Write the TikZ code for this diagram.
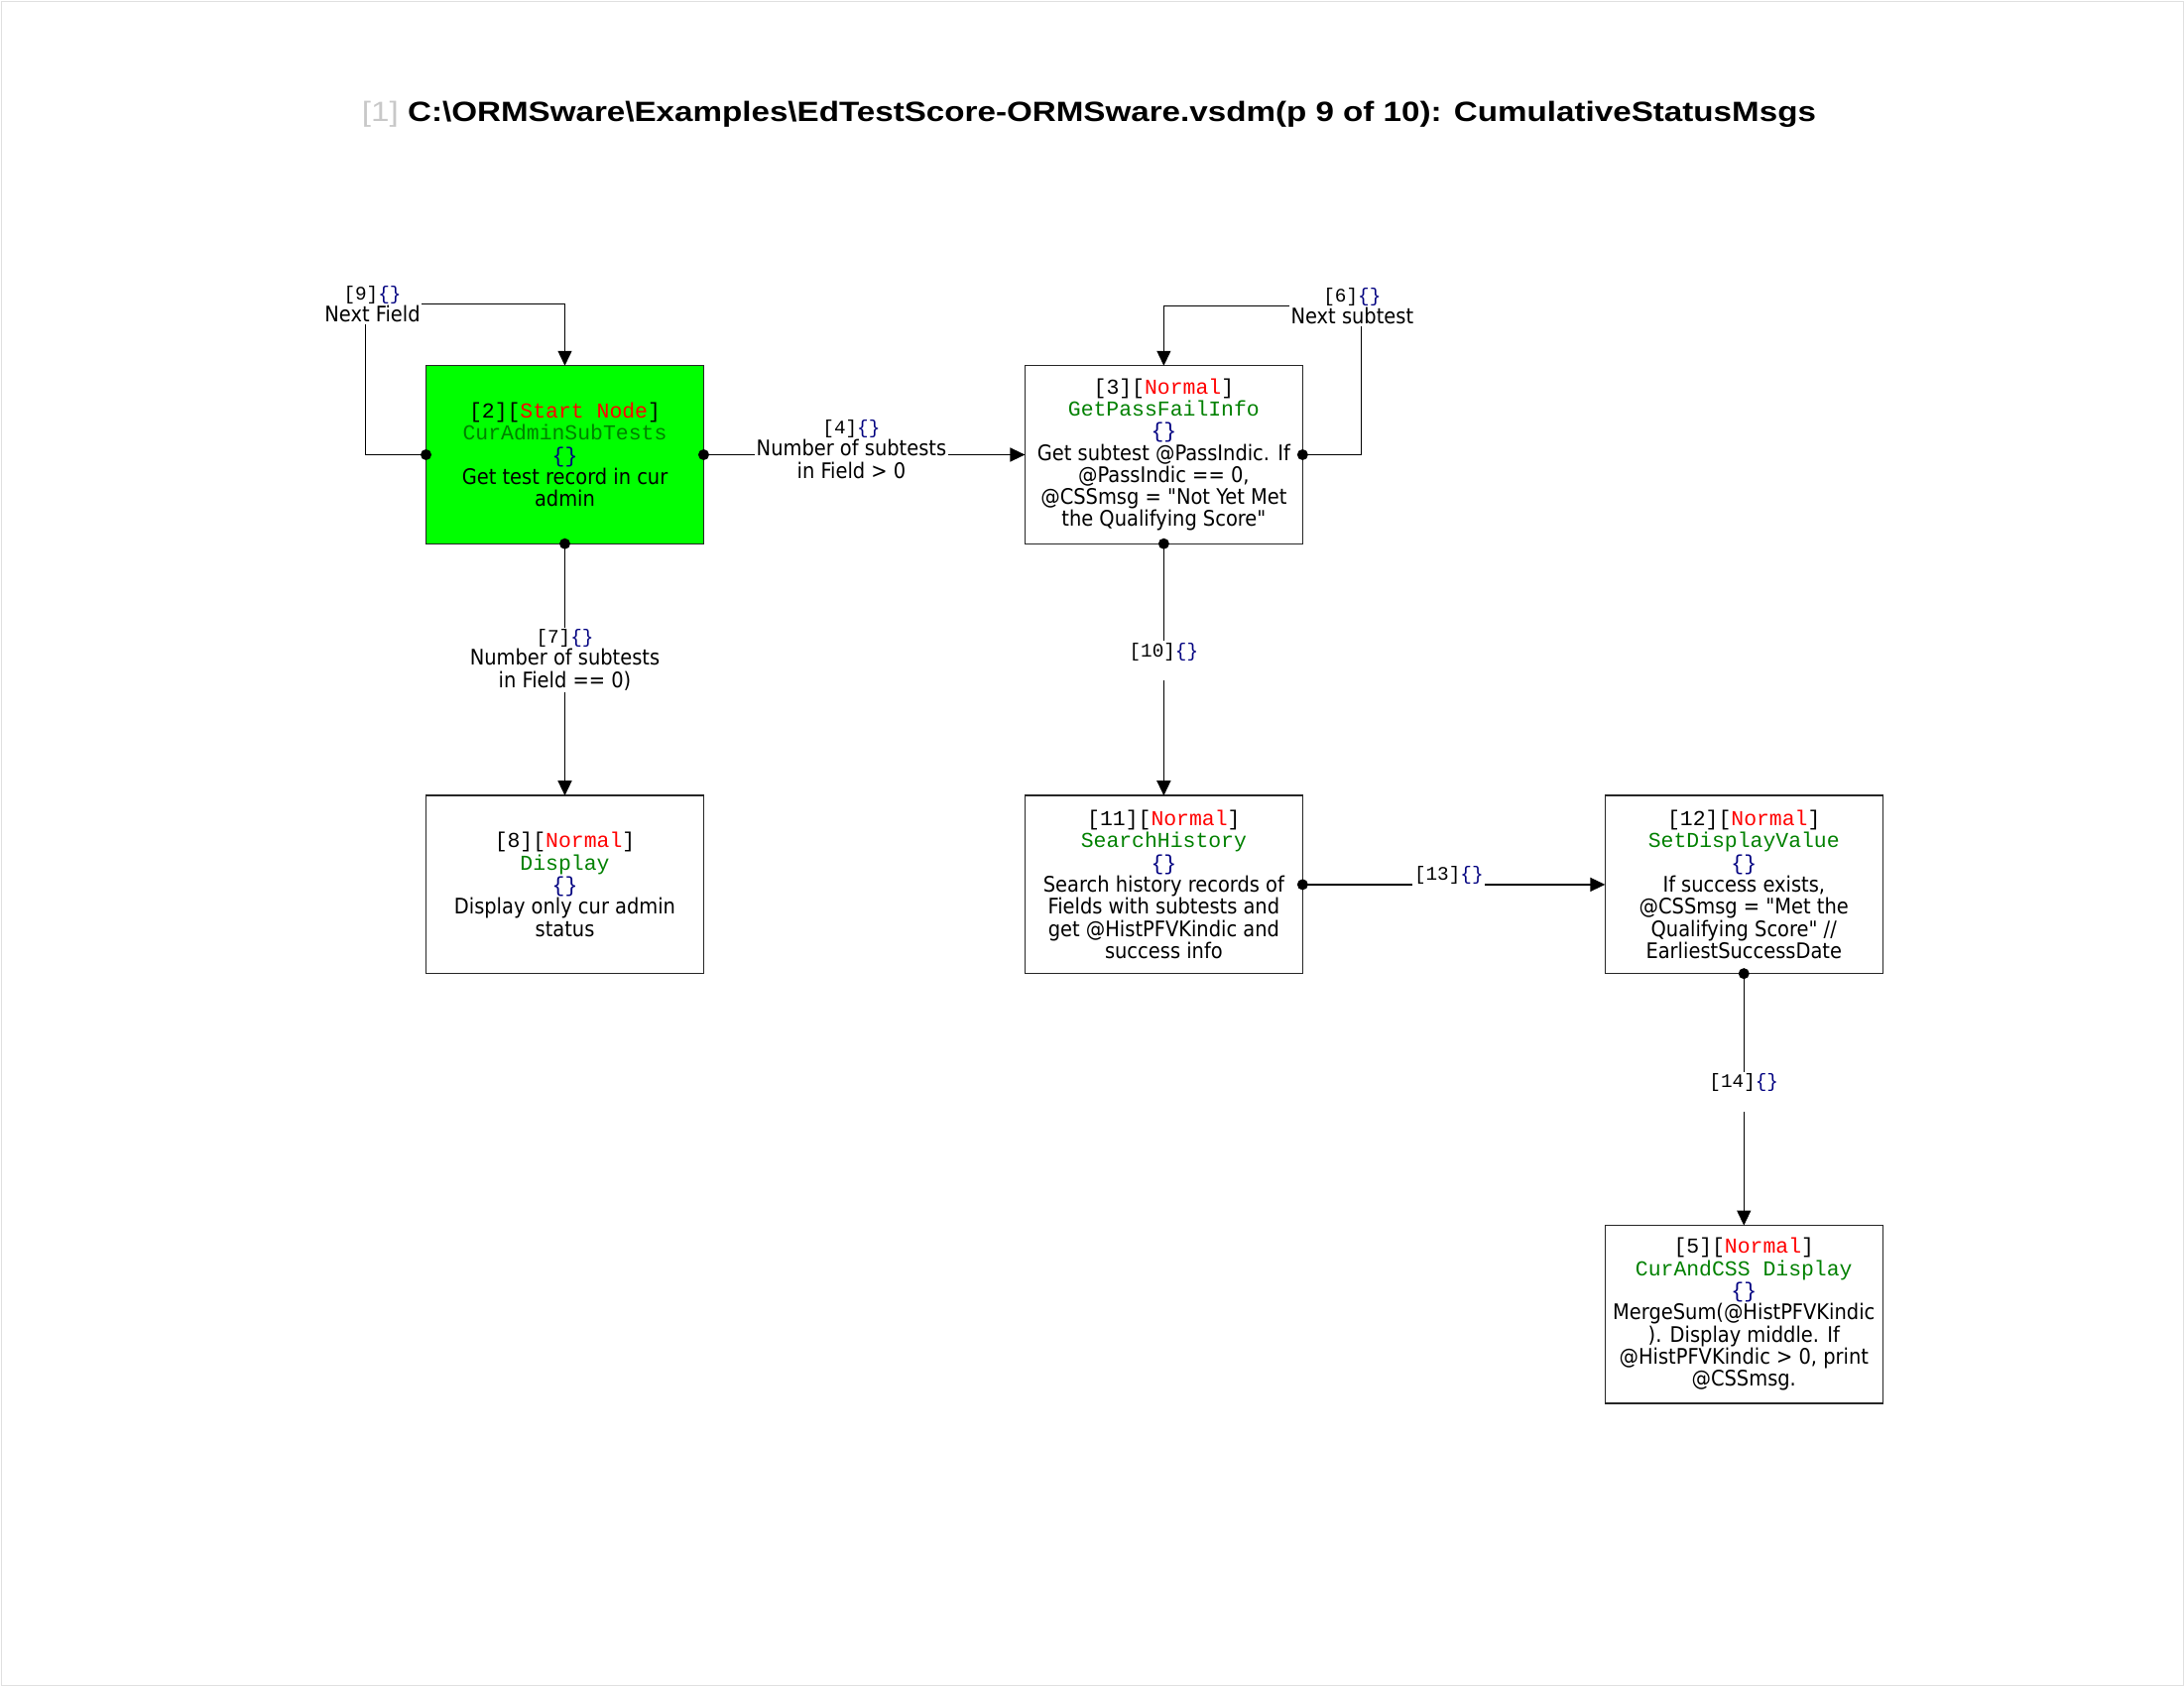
\documentclass[tikz,border=0pt]{standalone}
\usepackage{fontspec}
\setmainfont{DejaVu Sans Condensed}
\newfontfamily\codefont{Liberation Mono}
\newfontfamily\titlefont[FakeStretch=1.18]{Liberation Sans}
\usetikzlibrary{arrows.meta,positioning}
\definecolor{startgreen}{RGB}{0,255,0}
\definecolor{typered}{RGB}{255,0,0}
\definecolor{funcgreen}{RGB}{0,128,0}
\definecolor{bracenavy}{RGB}{0,0,128}
\definecolor{titlegray}{RGB}{200,200,200}
\newcommand{\descsize}{\fontsize{12.3}{12.7}\selectfont}
\newcommand{\codesize}{\fontsize{12.2}{12.7}\selectfont}
\newcommand{\nhead}[2]{{\codefont\codesize\relax[#1][\textcolor{typered}{#2}]}}
\newcommand{\nfunc}[1]{{\codefont\codesize\textcolor{funcgreen}{#1}}}
\newcommand{\nbraces}{{\codefont\codesize\textcolor{bracenavy}{\{\}}}}
\newcommand{\elab}[1]{{\codefont\fontsize{11}{12.7}\selectfont\relax[#1]\textcolor{bracenavy}{\{\}}}}
\begin{document}
\begin{tikzpicture}[
  x=0.02cm,y=-0.02cm,
  node distance=5.08cm and 6.48cm,
  box/.style={draw=black!85,line width=0.8pt,minimum width=5.6cm,minimum height=3.59cm,
    inner sep=0pt,outer sep=0pt,align=center,font=\descsize},
  startbox/.style={box,fill=startgreen},
  elabel/.style={fill=white,inner sep=1pt,align=center,font=\descsize},
  flow/.style={draw,line width=0.8pt,-{Triangle[length=0.3cm,width=0.28cm]}},
  every edge/.style={flow}
]
  \useasboundingbox (0,0) rectangle (2202,1700);
  \draw[black!12] (1,1) rectangle (2201,1699);
  \node (title) at (1098,115) {\titlefont\fontsize{16}{19}\selectfont\textcolor{titlegray}{[1]}
    \textbf{C:\textbackslash ORMSware\textbackslash Examples\textbackslash EdTestScore-ORMSware.vsdm(p 9 of 10): CumulativeStatusMsgs}};
  \node[startbox] (n2) at (569.5,458.5) {\nhead{2}{Start Node}\\ \nfunc{CurAdminSubTests}\\ \nbraces\\
    Get test record in cur\\ admin};
  \node[box,right=of n2] (n3) {\nhead{3}{Normal}\\ \nfunc{GetPassFailInfo}\\ \nbraces\\
    Get subtest @PassIndic. If\\ @PassIndic == 0,\\ @CSSmsg = \textquotedbl Not Yet Met\\ the Qualifying Score\textquotedbl};
  \node[box,below=of n2] (n8) {\nhead{8}{Normal}\\ \nfunc{Display}\\ \nbraces\\
    Display only cur admin\\ status};
  \node[box,below=of n3] (n11) {\nhead{11}{Normal}\\ \nfunc{SearchHistory}\\ \nbraces\\
    Search history records of\\ Fields with subtests and\\ get @HistPFVKindic and\\ success info};
  \node[box,right=6.1cm of n11] (n12) {\nhead{12}{Normal}\\ \nfunc{SetDisplayValue}\\ \nbraces\\
    If success exists,\\ @CSSmsg = \textquotedbl Met the\\ Qualifying Score\textquotedbl\ //\\ EarliestSuccessDate};
  \node[box,below=of n12] (n5) {\nhead{5}{Normal}\\ \nfunc{CurAndCSS Display}\\ \nbraces\\
    MergeSum(@HistPFVKindic\\ ). Display middle. If\\ @HistPFVKindic > 0, print\\ @CSSmsg.};
  \draw[flow] (n2.west) -| ++(-61,-152) node[elabel,xshift=0.14cm] {\elab{9}\\ Next Field} -| (n2.north);
  \draw[flow] (n3.east) -| ++(59,-150) node[elabel,xshift=-0.18cm] {\elab{6}\\ Next subtest} -| (n3.north);
  \path (n2.east) edge node[elabel,xshift=-0.26cm,yshift=0.11cm] {\elab{4}\\ Number of subtests\\ in Field > 0} (n3.west);
  \path (n2.south) edge node[elabel,yshift=0.2cm] {\elab{7}\\ Number of subtests\\ in Field == 0)} (n8.north);
  \path (n3.south) edge node[elabel,yshift=0.18cm] {\elab{10}\\ \mbox{}} (n11.north);
  \path (n11.east) edge node[elabel,xshift=-0.1cm] {\elab{13}\\ \mbox{}} (n12.west);
  \path (n12.south) edge node[elabel,yshift=0.16cm] {\elab{14}\\ \mbox{}} (n5.north);
  \foreach \p in {n2.west,n2.east,n2.south,n3.east,n3.south,n11.east,n12.south}
    \fill (\p) circle[radius=5.5];
\end{tikzpicture}
\end{document}
